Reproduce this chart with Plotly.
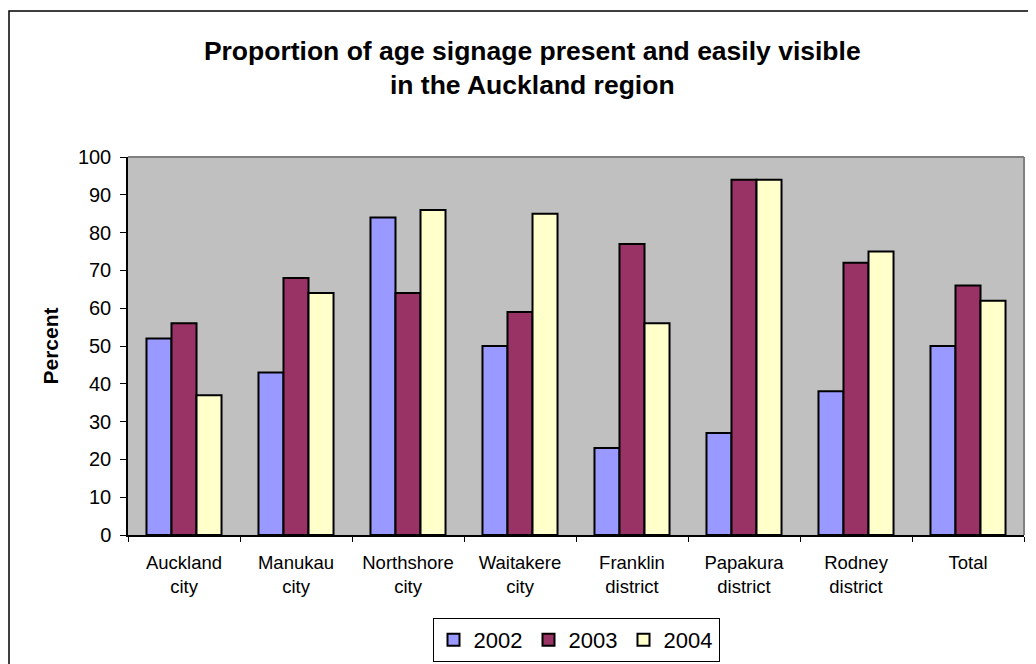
import plotly.graph_objects as go

categories = ["Auckland<br>city", "Manukau<br>city", "Northshore<br>city", "Waitakere<br>city",
              "Franklin<br>district", "Papakura<br>district", "Rodney<br>district", "Total"]
years = ["2002", "2003", "2004"]
v2002 = [52, 43, 84, 50, 23, 27, 38, 50]
v2003 = [56, 68, 64, 59, 77, 94, 72, 66]
v2004 = [37, 64, 86, 85, 56, 94, 75, 62]

COLORS = ["#9999FF", "#993366", "#FFFFCC"]
FONT = "Liberation Sans, Arial, sans-serif"

# page has an 8px body margin, so the figure is 1028x656 drawn from (8, 8)
W, H = 1028, 656
ML, MR, MT, MB = 120, 12, 149, 129
PW, PH = W - ML - MR, H - MT - MB

fig = go.Figure()
for name, vals, col in zip(years, [v2002, v2003, v2004], COLORS):
    fig.add_trace(go.Bar(
        x=categories, y=vals, name=name,
        marker=dict(color=col, line=dict(color="black", width=2)),
    ))

# outer chart frame (runs off the right/bottom edge like the original)
fig.add_shape(type="rect", xref="paper", yref="paper",
              x0=(1 - ML) / PW, x1=1.06, y0=-0.4, y1=1 + (MT - 3) / PH,
              line=dict(color="black", width=1.5), layer="below")

fig.update_layout(
    width=W, height=H,
    paper_bgcolor="white", plot_bgcolor="#C0C0C0",
    font=dict(family=FONT, color="black"),
    margin=dict(l=ML, r=MR, t=MT, b=MB),
    barmode="group", bargap=0.33, bargroupgap=0,
    title=dict(text="<b>Proportion of age signage present and easily visible<br>in the Auckland region</b>",
               x=0.51, xanchor="center", y=1 - 52 / H, yanchor="middle",
               font=dict(size=26.5, family=FONT)),
    xaxis=dict(tickson="boundaries", ticks="outside", ticklen=5, tickcolor="black",
               showline=True, linecolor="black", linewidth=1.5, mirror=False,
               tickfont=dict(size=18.5), showgrid=False, automargin=False,
               ticklabelstandoff=10),
    yaxis=dict(range=[0, 100], dtick=10, ticks="outside", ticklen=6, tickcolor="black",
               showline=True, linecolor="black", linewidth=1.5, showgrid=False,
               tickfont=dict(size=20), zeroline=False, automargin=False,
               ticklabelstandoff=5,
               title=dict(text="<b>Percent</b>", font=dict(size=21), standoff=14)),
    legend=dict(orientation="h", x=0.5, xanchor="center",
                y=2 / H, yref="container", yanchor="bottom",
                bordercolor="black", borderwidth=1, bgcolor="white",
                font=dict(size=22), itemwidth=30, entrywidth=50, tracegroupgap=0),
    showlegend=True,
)
# gray frame on top and right of plot area
fig.add_shape(type="line", xref="paper", yref="paper", x0=0, x1=1, y0=1, y1=1,
              line=dict(color="#808080", width=2))
fig.add_shape(type="line", xref="paper", yref="paper", x0=1, x1=1, y0=0, y1=1,
              line=dict(color="#808080", width=2))

fig.write_html("out.html")
